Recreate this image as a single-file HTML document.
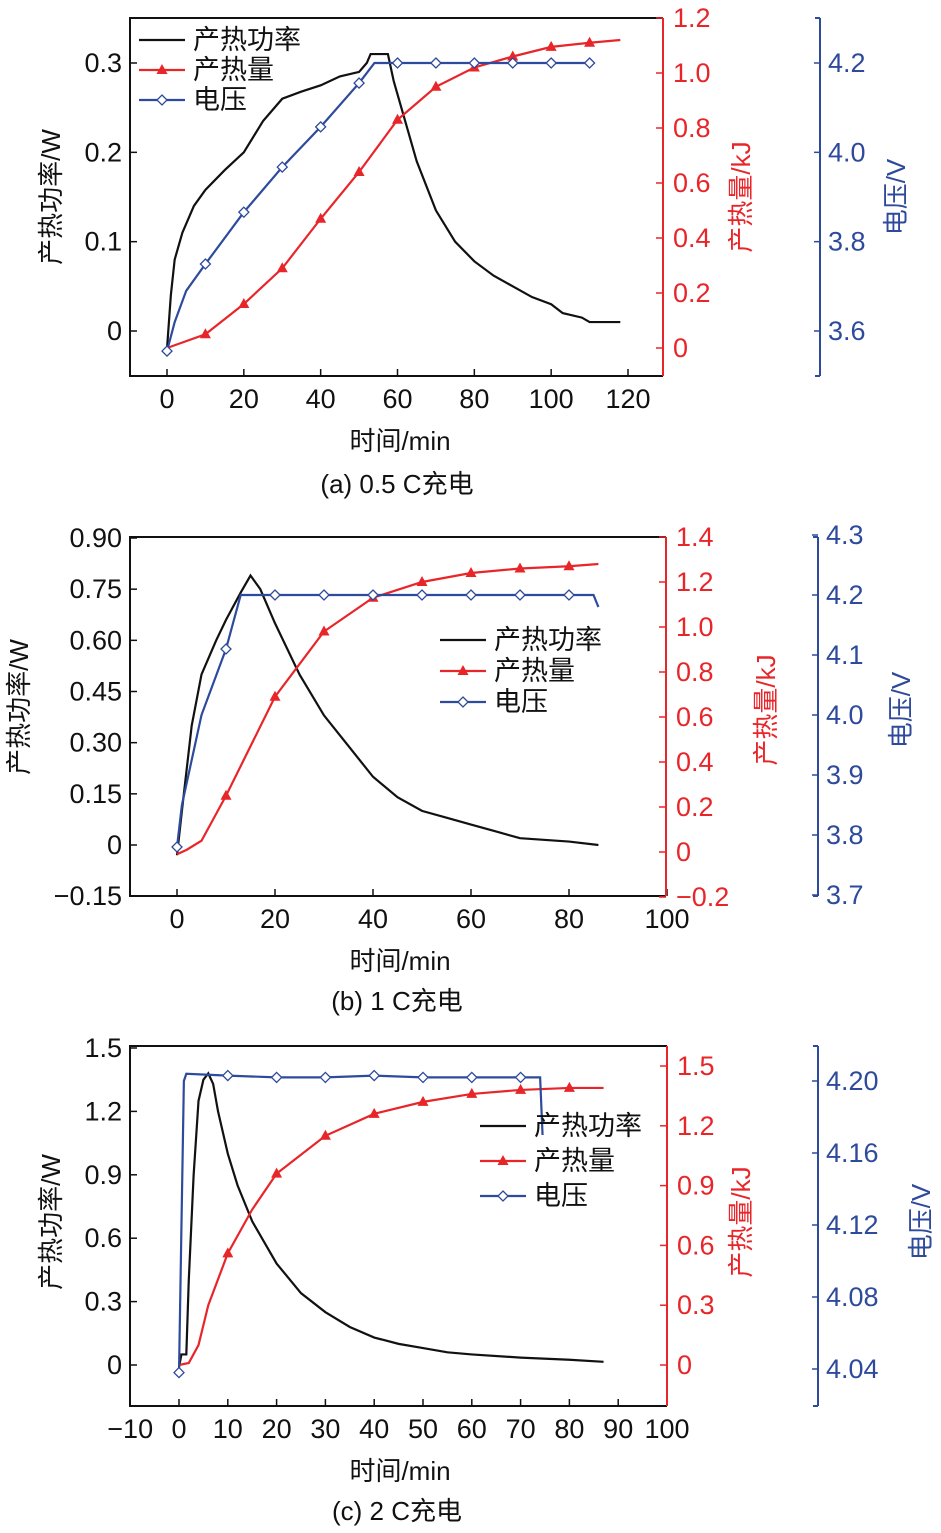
<!DOCTYPE html>
<html><head><meta charset="utf-8"><style>
html,body{margin:0;padding:0;background:#fff;}
svg{display:block;font-family:"Liberation Sans","Noto Sans CJK SC",sans-serif;}
</style></head><body>
<svg id="s" width="941" height="1533" viewBox="0 0 941 1533"></svg>
<script>
// ---------- Panel (a) 0.5C ----------
const aPowT=[0,1,2,4,7,10,15,20,25,30,35,40,45,50,52,53,57.5,59,61,65,70,75,80,85,90,95,100,103,108,110,118];
const aPowV=[-0.02,0.04,0.08,0.11,0.14,0.158,0.18,0.2,0.235,0.26,0.268,0.275,0.285,0.29,0.3,0.31,0.31,0.28,0.25,0.19,0.135,0.1,0.078,0.062,0.05,0.038,0.03,0.02,0.015,0.01,0.01];
const aHeatT=[0,10,20,30,40,50,60,70,80,90,100,110,118];
const aHeatV=[0,0.05,0.16,0.29,0.47,0.64,0.83,0.95,1.02,1.06,1.095,1.11,1.12];
const aVoltT=[0,2,5,10,20,30,40,50,54,60,70,80,90,100,110];
const aVoltV=[3.555,3.62,3.69,3.75,3.866,3.967,4.057,4.155,4.2,4.2,4.2,4.2,4.2,4.2,4.2];
const aXTicks=[0,20,40,60,80,100,120];
const aLTicks=[0,0.1,0.2,0.3];
const aRTicks=[0,0.2,0.4,0.6,0.8,1.0,1.2];
const aBTicks=[3.6,3.8,4.0,4.2];
// ---------- Panel (b) 1C ----------
const bPowT=[0,1,3,5,8,10,13,15,17,20,25,30,35,40,45,50,55,60,65,70,80,86];
const bPowV=[-0.03,0.1,0.35,0.5,0.6,0.66,0.74,0.79,0.75,0.65,0.5,0.38,0.29,0.2,0.14,0.1,0.08,0.06,0.04,0.02,0.01,0];
const bHeatT=[0,2,5,10,20,30,40,50,60,70,80,86];
const bHeatV=[-0.01,0.01,0.05,0.25,0.69,0.98,1.13,1.2,1.24,1.26,1.27,1.28];
const bVoltT=[0,1,5,10,13,20,30,40,50,60,70,80,85,86];
const bVoltV=[3.78,3.85,4.0,4.11,4.2,4.2,4.2,4.2,4.2,4.2,4.2,4.2,4.2,4.18];
const bXTicks=[0,20,40,60,80,100];
const bLTicks=[-0.15,0,0.15,0.30,0.45,0.60,0.75,0.90];
const bRTicks=[-0.2,0,0.2,0.4,0.6,0.8,1.0,1.2,1.4];
const bBTicks=[3.7,3.8,3.9,4.0,4.1,4.2,4.3];
// ---------- Panel (c) 2C ----------
const cPowT=[0,0.5,1.5,2,3,4,5,6,7,8,10,12,15,20,25,30,35,40,45,50,55,60,70,80,87];
const cPowV=[-0.01,0.05,0.05,0.4,0.9,1.25,1.35,1.38,1.33,1.2,1.0,0.85,0.68,0.48,0.34,0.25,0.18,0.13,0.1,0.08,0.06,0.05,0.035,0.025,0.015];
const cHeatT=[0,2,4,6,10,15,20,30,40,50,60,70,80,87];
const cHeatV=[0,0.01,0.1,0.3,0.56,0.78,0.96,1.15,1.26,1.32,1.36,1.38,1.39,1.39];
const cVoltT=[0,1,1.5,10,20,30,40,50,60,70,74,74.5];
const cVoltV=[4.038,4.2,4.204,4.203,4.202,4.202,4.203,4.202,4.202,4.202,4.202,4.17];
const cXTicks=[-10,0,10,20,30,40,50,60,70,80,90,100];
const cLTicks=[0,0.3,0.6,0.9,1.2,1.5];
const cRTicks=[0,0.3,0.6,0.9,1.2,1.5];
const cBTicks=[4.04,4.08,4.12,4.16,4.20];

const NS="http://www.w3.org/2000/svg";
const svg=document.getElementById('s');
function mk(tag,attrs,parent){const e=document.createElementNS(NS,tag);for(const k in attrs)e.setAttribute(k,attrs[k]);(parent||svg).appendChild(e);return e;}
function txt(str,x,y,size,color,anchor,rot,parent){const e=mk('text',{x:x,y:y,'font-size':size,fill:color,'text-anchor':anchor||'middle'},parent);if(rot)e.setAttribute('transform','rotate(-90 '+x+' '+y+')');e.textContent=str;return e;}
function lin(d0,d1,p0,p1){return v=>p0+(v-d0)*(p1-p0)/(d1-d0);}
function fmt(v,dec){let s=v.toFixed(dec);if(Math.abs(v)<1e-9)s='0';return s.replace('-','−');}
const RED='#e8262a',BLUE='#2e4a9c',BLK='#111';

function panel(P){
  const g=mk('g',{});
  
  
  const X=lin(P.xd[0],P.xd[1],P.xp[0],P.xp[1]);
  const YL=lin(P.ld[0],P.ld[1],P.lp[0],P.lp[1]);
  const YR=lin(P.rd[0],P.rd[1],P.rp[0],P.rp[1]);
  const YB=lin(P.bd[0],P.bd[1],P.bp[0],P.bp[1]);
  const [x0,x1,y0,y1]=P.box;
  const bx=mk('path',{d:`M${x1},${y0}L${x0},${y0}L${x0},${y1}L${x1},${y1}`,fill:'none',stroke:BLK,'stroke-width':2},g);
  
  const xa=mk('g',{},g);
  P.xt.forEach(t=>{const x=X(t);mk('line',{x1:x,x2:x,y1:y1,y2:y1-7,stroke:BLK,'stroke-width':1.5},xa);txt(fmt(t,0),x,y1+32,27,BLK,'middle',false,xa);});
  const la=mk('g',{},g);
  P.lt.forEach(t=>{const y=YL(t);mk('line',{x1:x0,x2:x0+7,y1:y,y2:y,stroke:BLK,'stroke-width':1.5},la);txt(fmt(t,P.ldec),x0-8,y+9,27,BLK,'end',false,la);});
  const ra=mk('g',{},g);
  mk('line',{x1:x1,x2:x1,y1:y0,y2:y1,stroke:RED,'stroke-width':2},ra);
  P.rt.forEach(t=>{const y=YR(t);mk('line',{x1:x1,x2:x1-7,y1:y,y2:y,stroke:RED,'stroke-width':1.5},ra);txt(fmt(t,1),x1+10,y+9,27,RED,'start',false,ra);});
  const ba=mk('g',{},g);
  mk('line',{x1:P.bx,x2:P.bx,y1:P.bspan[0],y2:P.bspan[1],stroke:BLUE,'stroke-width':2},ba);
  mk('line',{x1:P.bx,x2:P.bx-5,y1:P.bspan[0],y2:P.bspan[0],stroke:BLUE,'stroke-width':2},ba);
  mk('line',{x1:P.bx,x2:P.bx-5,y1:P.bspan[1],y2:P.bspan[1],stroke:BLUE,'stroke-width':2},ba);
  P.bt.forEach(t=>{const y=YB(t);mk('line',{x1:P.bx,x2:P.bx-6,y1:y,y2:y,stroke:BLUE,'stroke-width':1.5},ba);txt(t.toFixed(P.bdec),P.bx+8,y+9,27,BLUE,'start',false,ba);});
  const t1=txt('产热功率/W',P.lt_pos[0],P.lt_pos[1],26,BLK,'middle',true,g);
  const t2=txt('产热量/kJ',P.rt_pos[0],P.rt_pos[1],26,RED,'middle',true,g);
  const t3=txt('电压/V',P.bt_pos[0],P.bt_pos[1],26,BLUE,'middle',true,g);
  const t4=txt('时间/min',400,P.xtitle,26,BLK,'middle',false,g);
  const t5=txt(P.cap,397,P.capy,26,BLK,'middle',false,g);
  const pw=mk('polyline',{points:P.pT.map((t,i)=>X(t)+','+YL(P.pV[i])).join(' '),fill:'none',stroke:BLK,'stroke-width':2.2},g);
  
  const hl=mk('polyline',{points:P.hT.map((t,i)=>X(t)+','+YR(P.hV[i])).join(' '),fill:'none',stroke:RED,'stroke-width':2.2},g);
  
  P.hT.forEach((t,i)=>{if(t%10!==0||t===0)return;const x=X(t),y=YR(P.hV[i]);const m=mk('path',{d:`M${x},${y-6}L${x+5.5},${y+4}L${x-5.5},${y+4}Z`,fill:RED},g);});
  const vl=mk('polyline',{points:P.vT.map((t,i)=>X(t)+','+YB(P.vV[i])).join(' '),fill:'none',stroke:BLUE,'stroke-width':2.2},g);
  
  P.vT.forEach((t,i)=>{if(t%10!==0)return;const x=X(t),y=YB(P.vV[i]);const m=mk('path',{d:`M${x},${y-5}L${x+5},${y}L${x},${y+5}L${x-5},${y}Z`,fill:'#fff',stroke:BLUE,'stroke-width':1.3},g);});
  const lg=mk('g',{},g);
  const [lx,ly,ld]=P.leg;
  [['产热功率',BLK,0],['产热量',RED,1],['电压',BLUE,2]].forEach(([n,c,k])=>{const y=ly+k*ld;mk('line',{x1:lx,x2:lx+46,y1:y,y2:y,stroke:c,'stroke-width':2.2},lg);
    const cx=lx+23;
    if(k===1)mk('path',{d:`M${cx},${y-6}L${cx+5.5},${y+4}L${cx-5.5},${y+4}Z`,fill:RED},lg);
    if(k===2)mk('path',{d:`M${cx},${y-5}L${cx+5},${y}L${cx},${y+5}L${cx-5},${y}Z`,fill:'#fff',stroke:BLUE,'stroke-width':1.3},lg);
    const e=txt(n,lx+54,y+9,27,BLK,'start',false,lg);});
}
panel({name:'panel-a',box:[130,663,18,376],xd:[0,120],xp:[167,628],ld:[0,0.3],lp:[331,63],rd:[0,1.2],rp:[348,18],bd:[3.6,4.2],bp:[331,63],bx:820,bspan:[18,376],
  xt:aXTicks,lt:aLTicks,ldec:1,rt:aRTicks,bt:aBTicks,bdec:1,pT:aPowT,pV:aPowV,hT:aHeatT,hV:aHeatV,vT:aVoltT,vV:aVoltV,
  lt_pos:[60,197],rt_pos:[750,197],bt_pos:[905,197],xtitle:450,cap:'(a) 0.5 C充电',capy:493,leg:[139,40,30]});
panel({name:'panel-b',box:[130,666,537,896],xd:[0,100],xp:[177,667],ld:[0,0.9],lp:[845,538],rd:[0,1.4],rp:[852,537],bd:[3.7,4.3],bp:[895,535],bx:818,bspan:[537,896],
  xt:bXTicks,lt:bLTicks,ldec:2,rt:bRTicks,bt:bBTicks,bdec:1,pT:bPowT,pV:bPowV,hT:bHeatT,hV:bHeatV,vT:bVoltT,vV:bVoltV,
  lt_pos:[28,707],rt_pos:[775,710],bt_pos:[910,710],xtitle:970,cap:'(b) 1 C充电',capy:1010,leg:[440,640,31]});
panel({name:'panel-c',box:[130,667,1046,1406],xd:[0,100],xp:[179,667],ld:[0,1.5],lp:[1365,1048],rd:[0,1.5],rp:[1365,1066],bd:[4.04,4.2],bp:[1369,1081],bx:818,bspan:[1046,1406],
  xt:cXTicks,lt:cLTicks,ldec:1,rt:cRTicks,bt:cBTicks,bdec:2,pT:cPowT,pV:cPowV,hT:cHeatT,hV:cHeatV,vT:cVoltT,vV:cVoltV,
  lt_pos:[60,1222],rt_pos:[750,1222],bt_pos:[930,1222],xtitle:1480,cap:'(c) 2 C充电',capy:1520,leg:[480,1126,35]});
</script>
</body></html>
